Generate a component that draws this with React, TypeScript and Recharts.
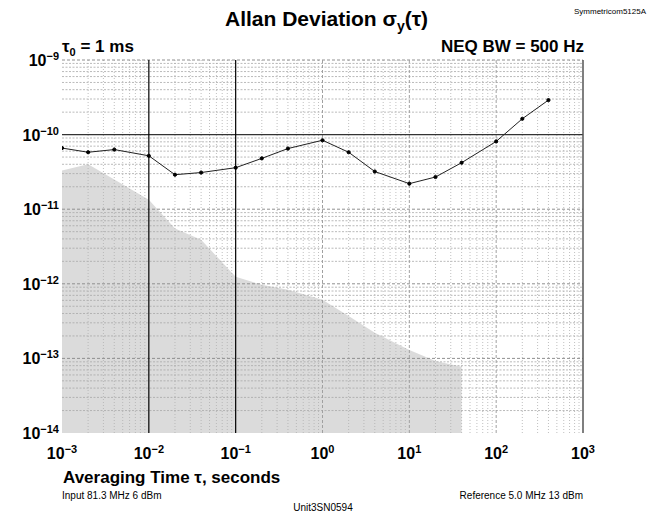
import React from 'react';
import {
  ComposedChart,
  Line,
  Area,
  XAxis,
  YAxis,
  ReferenceLine
} from 'recharts';

// averaging times (s) of the measured points
const taus = [1e-3, 2e-3, 4e-3, 1e-2, 2e-2, 4e-2, 0.1, 0.2, 0.4, 1, 2, 4, 10, 20, 40, 100, 200, 400];
// Allan deviation of the unit
const adev = [6.6e-11, 5.8e-11, 6.3e-11, 5.2e-11, 2.9e-11, 3.1e-11, 3.6e-11, 4.8e-11, 6.5e-11, 8.4e-11, 5.8e-11, 3.2e-11, 2.2e-11, 2.7e-11, 4.2e-11, 8.1e-11, 1.63e-10, 2.9e-10];
// instrument noise floor (grey area), only out to 40 s
const noiseFloor = [3.3e-11, 4.0e-11, 2.5e-11, 1.34e-11, 5.5e-12, 3.9e-12, 1.24e-12, 9.7e-13, 8.3e-13, 6.1e-13, 3.7e-13, 2.2e-13, 1.3e-13, 9.2e-14, 7.7e-14, null, null, null];

const xTicks = [1e-3, 1e-2, 1e-1, 1, 10, 100, 1000];
const yTicks = [1e-14, 1e-13, 1e-12, 1e-11, 1e-10, 1e-9];

// minor log grid: 2..9 in each decade
const minorGrid = (decades: number[]) => {
  const out: number[] = [];
  decades.slice(0, -1).forEach(d => {
    for (let m = 2; m <= 9; m++) out.push(d * m);
  });
  return out;
};
const xGrid = minorGrid(xTicks);
const yGrid = minorGrid(yTicks);

const data = taus.map((tau, i) => ({ tau, adev: adev[i], floor: noiseFloor[i] }));

const FONT = '"Liberation Sans", Arial, Helvetica, sans-serif';

const expOf = (v: number) => {
  const e = Math.round(Math.log10(v));
  return e < 0 ? '\u2212' + Math.abs(e) : String(e);
};

const XTick = (props: any) => {
  const { x, y, payload } = props;
  return (
    <text x={x} y={y + 24} textAnchor="middle" fontFamily={FONT} fontWeight="bold" fill="#000">
      <tspan fontSize={16}>10</tspan>
      <tspan fontSize={11} dy={-6}>{expOf(payload.value)}</tspan>
    </text>
  );
};

const YTick = (props: any) => {
  const { x, y, payload } = props;
  return (
    <text x={x - 1} y={y + 6} textAnchor="end" fontFamily={FONT} fontWeight="bold" fill="#000">
      <tspan fontSize={16}>10</tspan>
      <tspan fontSize={11} dy={-6}>{expOf(payload.value)}</tspan>
    </text>
  );
};

const txt = (style: React.CSSProperties): React.CSSProperties => ({
  position: 'absolute',
  fontFamily: FONT,
  whiteSpace: 'nowrap',
  lineHeight: 1,
  color: '#000',
  ...style
});

export default function App() {
  return (
    <div style={{ position: 'absolute', left: 0, top: 0, width: 653, height: 514, background: '#fff' }}>
      <ComposedChart
        width={653}
        height={514}
        data={data}
        margin={{ top: 60, right: 70, left: 6, bottom: 51 }}
      >
        <XAxis
          dataKey="tau"
          type="number"
          scale="log"
          domain={[1e-3, 1e3]}
          ticks={xTicks}
          tick={<XTick />}
          tickLine={false}
          axisLine={false}
          tickSize={0}
          height={30}
          allowDataOverflow
        />
        <YAxis
          type="number"
          scale="log"
          domain={[1e-14, 1e-9]}
          ticks={yTicks}
          tick={<YTick />}
          tickLine={false}
          axisLine={false}
          tickSize={0}
          width={56}
          allowDataOverflow
        />
        {xGrid.map(v => (
          <ReferenceLine key={'vx' + v} x={v} stroke="#b0b0b0" strokeDasharray="1 2" strokeWidth={0.8} />
        ))}
        {yGrid.map(v => (
          <ReferenceLine key={'hy' + v} y={v} stroke="#a8a8a8" strokeDasharray="2 1.5" strokeWidth={0.8} />
        ))}
        {[1e-11, 1e-12, 1e-13, 1e-9].map(v => (
          <ReferenceLine key={'hd' + v} y={v} stroke="#909090" strokeDasharray="3 2" strokeWidth={1} />
        ))}
        {[1, 10, 100].map(v => (
          <ReferenceLine key={'vd' + v} x={v} stroke="#a0a0a0" strokeDasharray="3 2" strokeWidth={1} />
        ))}
        <Area
          dataKey="floor"
          type="linear"
          baseValue={1e-14}
          stroke="none"
          fill="#c8c8c8"
          fillOpacity={0.65}
          isAnimationActive={false}
        />
        <ReferenceLine y={1e-10} stroke="#333" strokeWidth={1.2} />
        <ReferenceLine x={1e-2} stroke="#000" strokeWidth={1.2} />
        <ReferenceLine x={1e-1} stroke="#000" strokeWidth={1.2} />
        <ReferenceLine x={1e3} stroke="#555" strokeWidth={1.5} />
        <Line
          dataKey="adev"
          type="linear"
          stroke="#222"
          strokeWidth={1}
          dot={{ r: 1.6, fill: '#000', stroke: '#000' }}
          isAnimationActive={false}
        />
      </ComposedChart>

      <div style={txt({ left: 0, width: 653, top: 8, textAlign: 'center', fontSize: 21, fontWeight: 'bold' })}>
        Allan Deviation σ<sub style={{ fontSize: 14 }}>y</sub>(τ)
      </div>
      <div style={txt({ left: 574, top: 8, fontSize: 8 })}>Symmetricom5125A</div>
      <div style={txt({ left: 62, top: 38, fontSize: 17, fontWeight: 'bold' })}>
        τ<sub style={{ fontSize: 11 }}>0</sub> = 1 ms
      </div>
      <div style={txt({ right: 653 - 584, top: 38, fontSize: 17, fontWeight: 'bold' })}>NEQ BW = 500 Hz</div>
      <div style={txt({ left: 63, top: 469, fontSize: 17, fontWeight: 'bold' })}>Averaging Time τ, seconds</div>
      <div style={txt({ left: 62, top: 491, fontSize: 10 })}>Input 81.3 MHz 6 dBm</div>
      <div style={txt({ right: 653 - 583, top: 491, fontSize: 10 })}>Reference 5.0 MHz 13 dBm</div>
      <div style={txt({ left: 0, width: 646, top: 503, textAlign: 'center', fontSize: 10 })}>Unit3SN0594</div>
    </div>
  );
}
